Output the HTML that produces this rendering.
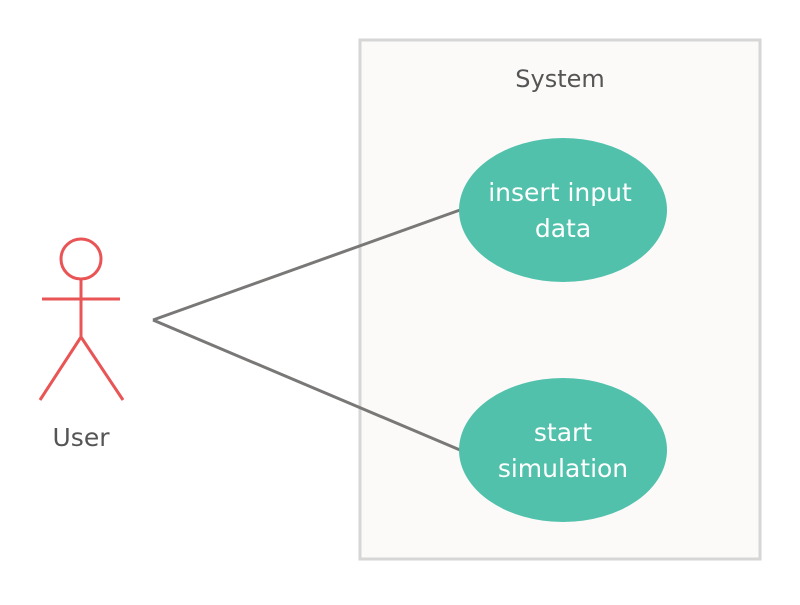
<!DOCTYPE html>
<html><head><style>body{margin:0;background:#fff}</style></head><body>
<svg width="800" height="600" xmlns="http://www.w3.org/2000/svg" font-family="'DejaVu Sans', sans-serif">
<rect x="360" y="40" width="400" height="519" fill="#fbfaf9" stroke="#d6d6d6" stroke-width="3"/>
<text x="560" y="87" font-size="24" fill="#555" text-anchor="middle">System</text>
<line x1="153" y1="320" x2="460" y2="210" stroke="#7a7877" stroke-width="3"/>
<line x1="153" y1="320" x2="460" y2="450" stroke="#7a7877" stroke-width="3"/>
<ellipse cx="563" cy="210" rx="104" ry="72" fill="#51c1ab"/>
<ellipse cx="563" cy="450" rx="104" ry="72" fill="#51c1ab"/>
<text x="560" y="201" font-size="25" fill="#fff" text-anchor="middle">insert input</text>
<text x="563" y="237" font-size="25" fill="#fff" text-anchor="middle">data</text>
<text x="563" y="441" font-size="25" fill="#fff" text-anchor="middle">start</text>
<text x="563" y="477" font-size="25" fill="#fff" text-anchor="middle">simulation</text>
<g stroke="#e95455" stroke-width="3" fill="none">
<circle cx="81" cy="259" r="20"/>
<line x1="81" y1="279" x2="81" y2="337"/>
<line x1="42" y1="299" x2="120" y2="299"/>
<line x1="81" y1="337" x2="40" y2="400"/>
<line x1="81" y1="337" x2="123" y2="400"/>
</g>
<text x="81" y="446" font-size="25" fill="#555" text-anchor="middle">User</text>
</svg>
</body></html>
